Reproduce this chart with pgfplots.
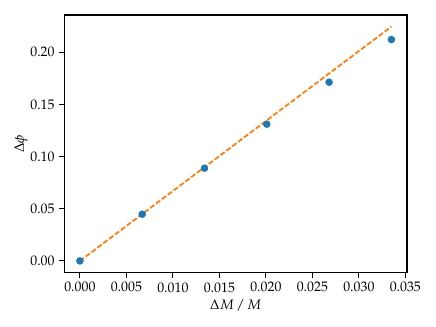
\documentclass[border=0pt]{standalone}
\usepackage{mathpazo}
\usepackage{pgfplots}
\pgfplotsset{compat=1.18}
\definecolor{tabblue}{HTML}{1F77B4}
\definecolor{taborange}{HTML}{FF7F0E}
\begin{document}
\begin{tikzpicture}
\begin{axis}[
 scale only axis,
 width=246.7bp, height=185.5bp,
 xmin=-0.001675, xmax=0.035175,
 ymin=-0.01123, ymax=0.23574,
 xtick={0,0.005,0.010,0.015,0.020,0.025,0.030,0.035},
 ytick={0,0.05,0.10,0.15,0.20},
 scaled x ticks=false, scaled y ticks=false,
 xticklabel style={/pgf/number format/.cd, fixed, fixed zerofill, precision=3},
 yticklabel style={/pgf/number format/.cd, fixed, fixed zerofill, precision=2},
 tick align=outside, tick pos=left,
 major tick length=3.5pt,
 every tick/.style={black, line width=0.8pt},
 axis line style={line width=0.8pt},
 tick label style={font=\fontsize{10}{12}\selectfont},
 label style={font=\fontsize{10}{12}\selectfont},
 xlabel={$\Delta M\,/\,M$},
 ylabel={$\Delta\phi$},
 xlabel style={yshift=2pt},
 ylabel style={yshift=-5pt},
]
\addplot[only marks, mark=*, mark size=2.5pt, color=tabblue] coordinates {
 (0,0) (0.0067,0.0448) (0.0134,0.0889) (0.0201,0.1311) (0.0268,0.1713) (0.0335,0.2122)
};
\addplot[taborange, line width=1.3pt, dash pattern=on 3.7pt off 1.6pt] coordinates {
 (0,0) (0.0335,0.2246)
};
\coordinate (bl) at (rel axis cs:0,0);
\coordinate (tr) at (rel axis cs:1,1);
\end{axis}
\pgfresetboundingbox
\path[use as bounding box] ([xshift=-46.3bp,yshift=-39.1bp]bl) rectangle ([xshift=20.9bp,yshift=10.8bp]tr);
\end{tikzpicture}
\end{document}
